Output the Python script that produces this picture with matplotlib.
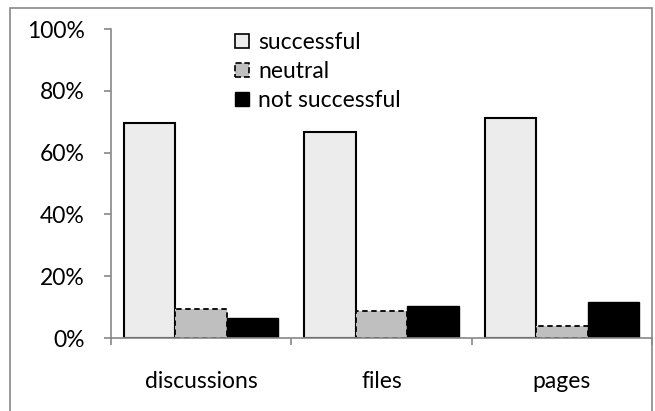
# grouped bar chart: success rate by content type

import numpy as np
import matplotlib.pyplot as plt
from matplotlib.patches import Rectangle, Patch
from matplotlib.ticker import PercentFormatter

categories = ["discussions", "files", "pages"]
successful = [69.7, 66.6, 71.2]
neutral = [9.3, 8.7, 3.8]
not_successful = [6.6, 10.3, 11.7]

plt.rcParams['font.family'] = ['Lato', 'DejaVu Sans']
fs = 16.5

fig = plt.figure(figsize=(6.55, 4.11), dpi=100)
ax = fig.add_axes([111/655, 1 - 338/411, (652-111)/655, (338-29)/411])

x = np.arange(len(categories))
w = 2/7
ax.bar(x - w, successful, w, color='#ececec', edgecolor='black', linewidth=1.5)
ax.bar(x, neutral, w, color='#bfbfbf', edgecolor='black', linewidth=1.3,
       linestyle=(0, (3, 2)))
ax.bar(x + w, not_successful, w, color='black', edgecolor='black', linewidth=1)

ax.set_xlim(-0.5, len(categories) - 0.5)
ax.set_ylim(0, 100)
ax.set_yticks(np.arange(0, 101, 20))
ax.yaxis.set_major_formatter(PercentFormatter(decimals=0))
ax.set_xticks(x)
ax.set_xticklabels(categories)
ax.set_xticks(np.arange(-0.5, len(categories), 1), minor=True)

for s in ['top', 'right']:
    ax.spines[s].set_visible(False)
for s in ['left', 'bottom']:
    ax.spines[s].set_color('#888888')
    ax.spines[s].set_linewidth(1.2)

ax.tick_params(axis='y', length=5, color='#888888', width=1.2, pad=14, labelsize=fs)
ax.tick_params(axis='x', which='major', length=0, pad=24, labelsize=fs)
ax.tick_params(axis='x', which='minor', length=5, color='#888888', width=1.2)

handles = [
    Patch(facecolor='#ececec', edgecolor='black', linewidth=1.2),
    Patch(facecolor='#bfbfbf', edgecolor='black', linewidth=1.2, linestyle='--'),
    Patch(facecolor='black', edgecolor='black'),
]
ax.legend(handles, ["successful", "neutral", "not successful"],
          loc='upper left', bbox_to_anchor=(226/655, 1 - 23/411),
          bbox_transform=fig.transFigure, frameon=False, fontsize=fs,
          handlelength=0.6, handleheight=0.6, handletextpad=0.4,
          labelspacing=0.35, borderaxespad=0)

# outer chart border
fig.patches.append(Rectangle((10/655, -0.05), (652-10)/655, 1.05 - 8/411,
                             transform=fig.transFigure, fill=False,
                             edgecolor='#888888', linewidth=1.2))

plt.savefig("out.png", dpi=100)
